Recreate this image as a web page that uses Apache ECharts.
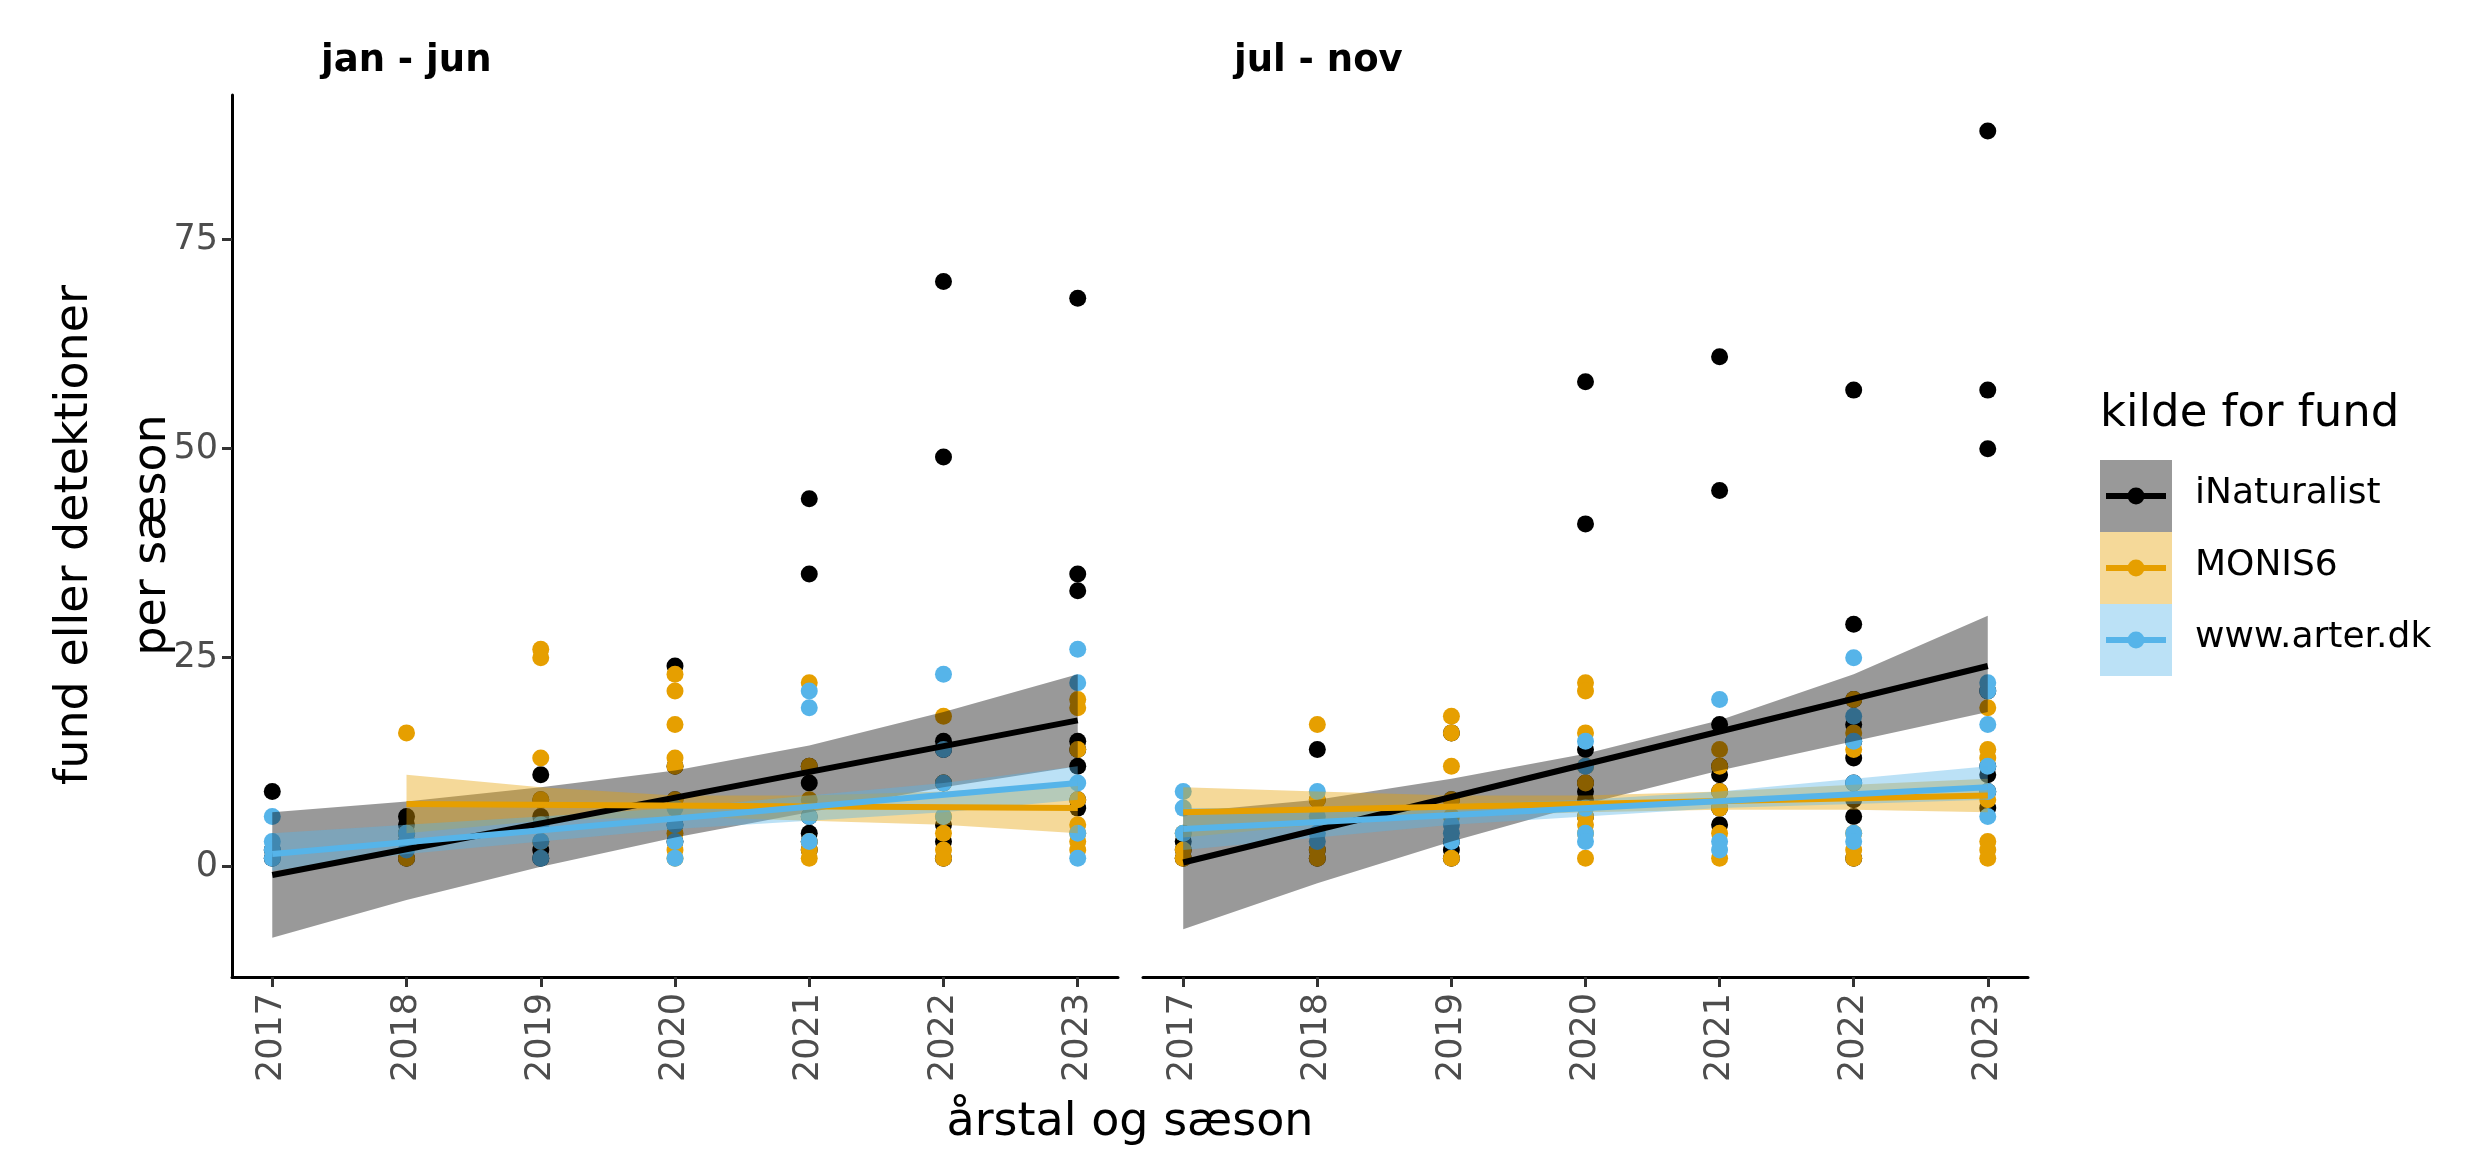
<!DOCTYPE html>
<html>
<head>
<meta charset="utf-8">
<script src="https://cdn.jsdelivr.net/npm/echarts@6/dist/echarts.min.js"></script>
<style>html,body{margin:0;background:#fff}#c{width:2480px;height:1169px}</style>
</head>
<body>
<div id="c"></div>
<script>
const years = [2017, 2018, 2019, 2020, 2021, 2022, 2023];
const sources = ['iNaturalist', 'MONIS6', 'www.arter.dk'];
const colors = ['#000000', '#E69F00', '#56B4E9'];
const bandColors = ['rgba(0,0,0,0.4)', 'rgba(230,159,0,0.4)', 'rgba(86,180,233,0.4)'];
const panelTitles = ['jan - jun', 'jul - nov'];
const yTicks = [0, 25, 50, 75];

// punkter pr. år (en liste pr. år, 2017..2023)
const pts = [
  [ // jan - jun
    [[9, 1, 2], [6, 5, 4, 3, 1], [11, 8, 6, 5, 2, 1], [24, 12, 8, 5, 3], [44, 35, 12, 10, 6, 4, 3, 2], [70, 49, 15, 14, 10, 5, 3, 1], [68, 35, 33, 15, 14, 12, 8, 7]],
    [[], [16, 4, 1], [26, 25, 13, 8, 5, 3], [23, 21, 17, 13, 12, 8, 4, 2, 1], [22, 12, 8, 3, 2, 1], [18, 10, 6, 4, 2, 1], [20, 19, 14, 8, 5, 4, 3, 2]],
    [[6, 3, 2, 1], [4, 3, 2], [5, 3, 1], [7, 5, 3, 1], [21, 19, 6, 3], [23, 14, 10, 6], [26, 22, 10, 4, 1]]
  ],
  [ // jul - nov
    [[3, 2, 1], [14, 8, 2, 1], [16, 8, 3, 2, 1], [58, 41, 14, 10, 9, 8, 6], [61, 45, 17, 12, 11, 9, 7, 5], [57, 29, 20, 17, 15, 13, 10, 8, 6, 1], [88, 57, 50, 21, 12, 11, 9, 7]],
    [[4, 2, 1], [17, 8, 2, 1], [18, 16, 12, 8, 6, 1], [22, 21, 16, 12, 10, 6, 5, 4, 1], [14, 12, 9, 7, 4, 1], [20, 16, 14, 4, 2, 1], [19, 14, 13, 8, 3, 2, 1]],
    [[9, 7, 4], [9, 6, 4, 3], [5, 4, 3], [15, 12, 7, 4, 3], [20, 3, 2], [25, 18, 15, 10, 4, 3], [22, 21, 17, 12, 9, 6]]
  ]
];

// tendenslinje (start, slut) og konfidensbånd pr. år (null = ingen)
const fitStart = [[-1, 7.5, 1.5], [0.5, 6.5, 4.5]];
const fitEnd = [[17.5, 7, 10], [24, 8.5, 9.5]];
const fitFromYear = [[2017, 2018, 2017], [2017, 2017, 2017]];
const bandLow = [
  [[-8.5, -4, 0, 3.5, 6.5, 9.5, 12], [null, 4, 5.5, 6, 5.5, 5, 4], [-0.5, 1.5, 3, 4.5, 5.5, 6.5, 8]],
  [[-7.5, -2, 3, 7.5, 11.5, 15, 18.5], [3.5, 5, 6, 6.5, 6.8, 6.8, 6.5], [2, 3.5, 5, 6, 7, 7.5, 8]]
];
const bandHigh = [
  [[6.5, 7.8, 9.5, 11.5, 14.5, 18.5, 23], [null, 11, 9.5, 8.5, 8.5, 9, 10], [4, 5, 6, 7, 8.5, 10, 12]],
  [[6.5, 8, 10.5, 13.5, 17.5, 23, 30], [9.5, 9, 8.5, 8.5, 9, 9.8, 10.5], [7, 7, 7.5, 8, 9, 10.5, 12]]
];

const font = 'DejaVu Sans';
const grids = [
  { left: 232, top: 95, width: 886, height: 882 },
  { left: 1143, top: 95, width: 885, height: 882 }
];

const xAxes = [], yAxes = [], series = [];
grids.forEach((g, p) => {
  xAxes.push({
    type: 'value', gridIndex: p, min: 2016.7, max: 2023.3, interval: 1,
    splitLine: { show: false },
    axisLine: { show: true, onZero: false, lineStyle: { color: '#000', width: 3 } },
    axisTick: { show: true, length: 10, lineStyle: { color: '#333', width: 3 }, customValues: years },
    axisLabel: { rotate: 90, fontFamily: font, fontSize: 35, color: '#4d4d4d', margin: 16, customValues: years,
      formatter: v => String(v) }
  });
  yAxes.push({
    type: 'value', gridIndex: p, min: -13.2, max: 92.3,
    splitLine: { show: false },
    axisLine: { show: p === 0, lineStyle: { color: '#000', width: 3 } },
    axisTick: { show: p === 0, length: 10, lineStyle: { color: '#333', width: 3 }, customValues: yTicks },
    axisLabel: { show: p === 0, fontFamily: font, fontSize: 35, color: '#4d4d4d', margin: 14, customValues: yTicks }
  });
  // punkter
  sources.forEach((s, k) => {
    const data = [];
    pts[p][k].forEach((vals, i) => vals.forEach(v => data.push([years[i], v])));
    series.push({
      type: 'scatter', name: s, xAxisIndex: p, yAxisIndex: p, data: data,
      symbolSize: 17, itemStyle: { color: colors[k], opacity: 1 }, z: 2, silent: true
    });
  });
  // konfidensbånd
  sources.forEach((s, k) => {
    const lo = bandLow[p][k], hi = bandHigh[p][k];
    series.push({
      type: 'custom', xAxisIndex: p, yAxisIndex: p, data: [0], z: 3, silent: true,
      renderItem: (params, api) => {
        const top = [], bot = [];
        years.forEach((y, i) => {
          if (lo[i] === null) return;
          top.push(api.coord([y, hi[i]]));
          bot.unshift(api.coord([y, lo[i]]));
        });
        return { type: 'polygon', shape: { points: top.concat(bot) }, style: { fill: bandColors[k] } };
      }
    });
  });
  // tendenslinjer
  sources.forEach((s, k) => {
    series.push({
      type: 'line', xAxisIndex: p, yAxisIndex: p, z: 4, silent: true, showSymbol: false,
      data: [[fitFromYear[p][k], fitStart[p][k]], [2023, fitEnd[p][k]]],
      lineStyle: { color: colors[k], width: 6 }
    });
  });
});

// forklaring (tegnet som ggplot-nøgler)
const legend = [{ type: 'text', left: 2100, top: 392, style: { text: 'kilde for fund', font: '45px "DejaVu Sans"', fill: '#000' } }];
sources.forEach((s, k) => {
  const y0 = 460 + k * 72;
  legend.push({ type: 'rect', shape: { x: 2100, y: y0, width: 72, height: 72 }, style: { fill: bandColors[k] } });
  legend.push({ type: 'line', shape: { x1: 2106, y1: y0 + 36, x2: 2166, y2: y0 + 36 }, style: { stroke: colors[k], lineWidth: 6 } });
  legend.push({ type: 'circle', shape: { cx: 2136, cy: y0 + 36, r: 8.5 }, style: { fill: colors[k] } });
  legend.push({ type: 'text', left: 2195, top: y0 + 16, style: { text: s, font: '36px "DejaVu Sans"', fill: '#000' } });
});

const chart = echarts.init(document.getElementById('c'));
chart.setOption({
  animation: false,
  backgroundColor: '#fff',
  grid: grids,
  xAxis: xAxes,
  yAxis: yAxes,
  series: series,
  title: [
    { text: panelTitles[0], left: 316, top: 38, textStyle: { fontFamily: font, fontSize: 37, fontWeight: 'bold', color: '#000' } },
    { text: panelTitles[1], left: 1229, top: 38, textStyle: { fontFamily: font, fontSize: 37, fontWeight: 'bold', color: '#000' } }
  ],
  graphic: legend.concat([
    { type: 'text', x: 1130, y: 1123, style: { text: 'årstal og sæson', font: '46px "DejaVu Sans"', fill: '#000', align: 'center', verticalAlign: 'middle' } },
    { type: 'text', x: 36, y: 535, rotation: Math.PI / 2, style: { text: 'fund eller detektioner\nper sæson', font: '46px "DejaVu Sans"', fill: '#000', align: 'center', verticalAlign: 'top', lineHeight: 78 } }
  ])
});
</script>
</body>
</html>
